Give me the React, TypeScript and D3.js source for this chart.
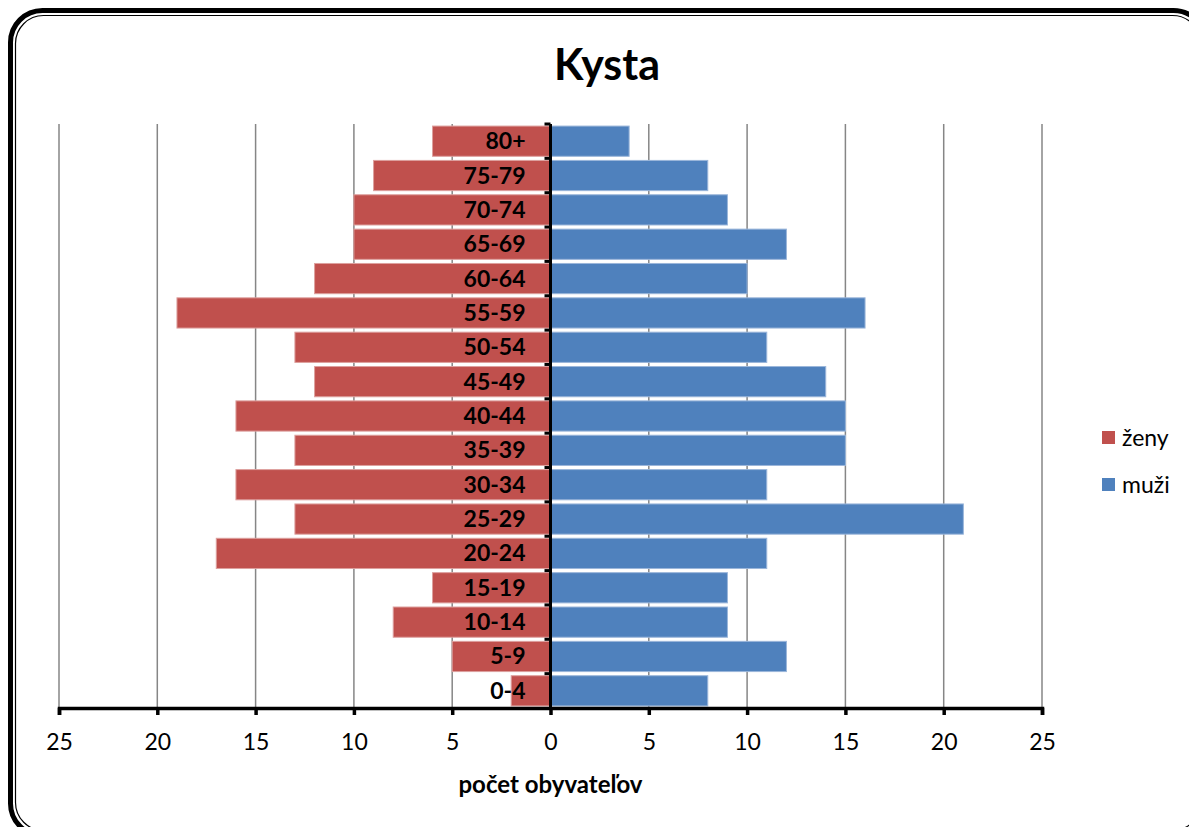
import { useEffect, useRef } from 'react';
import * as d3 from 'd3';

const ageGroups = ['80+', '75-79', '70-74', '65-69', '60-64', '55-59', '50-54', '45-49', '40-44', '35-39', '30-34', '25-29', '20-24', '15-19', '10-14', '5-9', '0-4'];
const zeny = [6, 9, 10, 10, 12, 19, 13, 12, 16, 13, 16, 13, 17, 6, 8, 5, 2];
const muzi = [4, 8, 9, 12, 10, 16, 11, 14, 15, 15, 11, 21, 11, 9, 9, 12, 8];
const xTicks = [-25, -20, -15, -10, -5, 0, 5, 10, 15, 20, 25];

const W = 1189;
const H = 827;
const FONT = 'Lato, "Open Sans", sans-serif';

export default function App() {
    const svgRef = useRef<SVGSVGElement>(null);

    useEffect(() => {
        if (!svgRef.current) return;
        const svg = d3.select(svgRef.current);
        svg.selectAll('*').remove();

        // Frame (double line, rounded)
        svg.append('rect')
            .attr('x', 10.5).attr('y', 10.5)
            .attr('width', 1195).attr('height', 825)
            .attr('rx', 32)
            .attr('fill', '#fff')
            .attr('stroke', '#000')
            .attr('stroke-width', 5);
        svg.append('rect')
            .attr('x', 15.5).attr('y', 15.5)
            .attr('width', 1185).attr('height', 815)
            .attr('rx', 28)
            .attr('fill', 'none')
            .attr('stroke', '#000')
            .attr('stroke-width', 1.2);

        const left = 59;
        const right = 1042;
        const top = 124;
        const bottom = 708;

        const x = d3.scaleLinear().domain([-25, 25]).range([left, right]);
        const y = d3.scaleBand().domain(ageGroups).range([top, bottom]).paddingInner(0.12).paddingOuter(0.06);

        // Title
        svg.append('text')
            .attr('x', 607).attr('y', 80)
            .attr('text-anchor', 'middle')
            .attr('font-family', FONT)
            .attr('font-weight', 700)
            .attr('font-size', 43)
            .text('Kysta');

        // Grid
        svg.append('g')
            .selectAll('line')
            .data(xTicks.filter(d => d !== 0))
            .enter()
            .append('line')
            .attr('x1', d => x(d)).attr('x2', d => x(d))
            .attr('y1', top).attr('y2', bottom)
            .attr('stroke', '#868686')
            .attr('stroke-width', 1.5);

        // Bars
        svg.append('g')
            .selectAll('rect')
            .data(ageGroups)
            .enter()
            .append('rect')
            .attr('x', (d, i) => x(-zeny[i]))
            .attr('y', d => y(d) || 0)
            .attr('width', (d, i) => x(0) - x(-zeny[i]))
            .attr('height', y.bandwidth())
            .attr('fill', '#C0504D')
            .attr('stroke', '#DDA09E')
            .attr('stroke-width', 1);

        svg.append('g')
            .selectAll('rect')
            .data(ageGroups)
            .enter()
            .append('rect')
            .attr('x', x(0))
            .attr('y', d => y(d) || 0)
            .attr('width', (d, i) => x(muzi[i]) - x(0))
            .attr('height', y.bandwidth())
            .attr('fill', '#4F81BD')
            .attr('stroke', '#9BB6DA')
            .attr('stroke-width', 1);

        // Category labels
        svg.append('g')
            .selectAll('text')
            .data(ageGroups)
            .enter()
            .append('text')
            .attr('x', x(0) - 25)
            .attr('y', d => (y(d) || 0) + y.bandwidth() / 2 + 8)
            .attr('text-anchor', 'end')
            .attr('font-family', FONT)
            .attr('font-weight', 700)
            .attr('font-size', 23)
            .text(d => d);

        // Vertical axis at zero
        const step = (bottom - top) / ageGroups.length;
        svg.append('line')
            .attr('x1', x(0)).attr('x2', x(0))
            .attr('y1', top).attr('y2', bottom)
            .attr('stroke', '#000').attr('stroke-width', 3);
        svg.append('g')
            .selectAll('line')
            .data(d3.range(ageGroups.length))
            .enter()
            .append('line')
            .attr('x1', x(0) - 6).attr('x2', x(0))
            .attr('y1', i => top + i * step).attr('y2', i => top + i * step)
            .attr('stroke', '#000').attr('stroke-width', 3);

        // Horizontal axis
        const axis = svg.append('g')
            .attr('transform', `translate(0,${bottom})`)
            .call(d3.axisBottom(x).tickValues(xTicks).tickSize(7).tickPadding(19).tickFormat(d => String(Math.abs(+d))));
        axis.select('.domain').attr('stroke', '#000').attr('stroke-width', 3.5);
        axis.selectAll('.tick line').attr('stroke', '#000').attr('stroke-width', 3.5);
        axis.selectAll('.tick text')
            .attr('font-family', FONT)
            .attr('font-size', 23)
            .attr('fill', '#000');

        svg.append('text')
            .attr('x', x(0)).attr('y', 793)
            .attr('text-anchor', 'middle')
            .attr('font-family', FONT)
            .attr('font-weight', 700)
            .attr('font-size', 24)
            .text('počet obyvateľov');

        // Legend
        const legend = [{ name: 'ženy', color: '#C0504D' }, { name: 'muži', color: '#4F81BD' }];
        const lg = svg.append('g')
            .selectAll('g')
            .data(legend)
            .enter()
            .append('g')
            .attr('transform', (d, i) => `translate(1102,${431 + i * 47})`);
        lg.append('rect')
            .attr('width', 13).attr('height', 13)
            .attr('fill', d => d.color);
        lg.append('text')
            .attr('x', 20).attr('y', 15)
            .attr('font-family', FONT)
            .attr('font-size', 23)
            .text(d => d.name);
    }, []);

    return (
        <svg
            ref={svgRef}
            width={W}
            height={H}
            style={{ position: 'fixed', left: 0, top: 0, display: 'block', background: '#fff' }}
        />
    );
}
